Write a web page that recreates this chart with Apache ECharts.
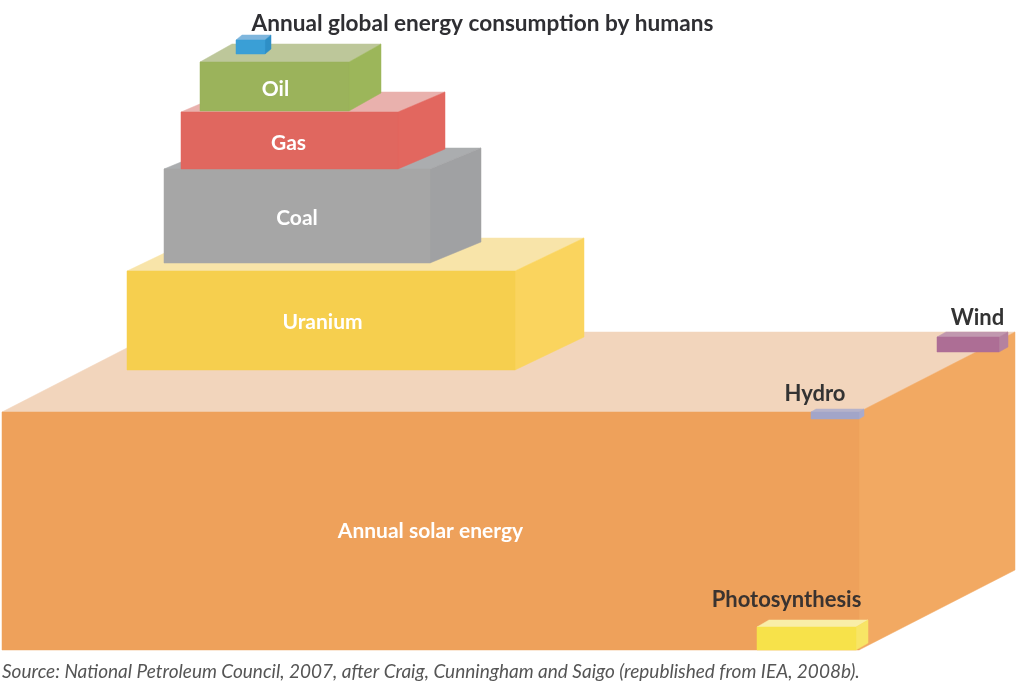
<!DOCTYPE html>
<html><head><meta charset="utf-8">
<style>html,body{margin:0;padding:0;background:#fff}#c{width:1024px;height:686px}</style>
<script src="https://cdn.jsdelivr.net/npm/echarts@6/dist/echarts.min.js"></script>
</head><body><div id="c"></div>
<script>
// Values, in picture units
const boxNames   = ['Annual solar energy','Uranium','Coal','Gas','Oil','Biomass','Wind','Hydro','Photosynthesis'];
const boxLeft    = [2,127,164,181,200,236,937,811,757];
const boxRight   = [859,515,430,398,349,265,999,859,856];
const boxTop     = [412,271,169,112,62,40,337,412,627];
const boxBottom  = [650,370,263,169,111,54,352,419,650];
const boxDepthX  = [156,69,51,47,32,6,9,5,12];
const boxDepthY  = [80,33,21,20,18,5,5,3,7];
const labelText  = ['Annual solar energy','Uranium','Coal','Gas','Oil','','Wind','Hydro','Photosynthesis'];
const labelX     = [430.5,322.5,297,288.5,275.5,0,977.5,815,786.5];
const labelY     = [531,322,218,143,89,0,318,394,600];

const frontFill = ['#EEA15B','#F6CF4E','#A6A6A6','#E0675F','#9BB35B','#3A9FD6','#AD6E95','#A2A5C8','#F7E24A'];
const topFill   = ['#F2D5BC','#F8E4A9','#ABADAF','#E9B1AD','#BDC79A','#7FB6DD','#C198AF','#B5B2CA','#F9EEA8'];
const sideFill  = ['#F2A962','#FAD45E','#A0A1A3','#E2675F','#9CB65A','#2E8FC6','#B5829F','#A9AACB','#F8E565'];
const labelFill = ['#fff','#fff','#fff','#fff','#fff','#fff','#333333','#333333','#3a3330'];
const labelSize = [21,21,21,21,21,21,22,22,22];
const FONT = 'Lato';

const chart = echarts.init(document.getElementById('c'));
chart.setOption({
  animation:false,
  backgroundColor:'#fff',
  title:[
    {text:'Annual global energy consumption by humans',left:477.5,top:7,textAlign:'center',
     textStyle:{fontFamily:FONT,fontSize:22.6,fontWeight:'bold',color:'#2f2f33'}},
    {text:'Source: National Petroleum Council, 2007, after Craig, Cunningham and Saigo (republished from IEA, 2008b).',
     left:-3,top:657,textStyle:{fontFamily:FONT,fontSize:19,fontStyle:'italic',fontWeight:'normal',color:'#555'}}
  ],
  grid:{left:0,right:0,top:0,bottom:0},
  xAxis:{type:'value',min:0,max:1024,show:false},
  yAxis:{type:'value',min:0,max:686,inverse:true,show:false},
  series:[{
    type:'custom',silent:true,clip:false,
    data:boxNames.map((n,i)=>[boxLeft[i],boxTop[i]]),
    renderItem(params,api){
      const i=params.dataIndex;
      const l=boxLeft[i],r=boxRight[i],t=boxTop[i],b=boxBottom[i],dx=boxDepthX[i],dy=boxDepthY[i];
      const poly=(pts,fill)=>({type:'polygon',shape:{points:pts.map(p=>api.coord(p))},
        style:{fill,stroke:fill,lineWidth:0.5}});
      const children=[
        poly([[l,t],[l+dx,t-dy],[r+dx,t-dy],[r,t]],topFill[i]),
        poly([[r,t],[r+dx,t-dy],[r+dx,b-dy],[r,b]],sideFill[i]),
        poly([[l,t],[r,t],[r,b],[l,b]],frontFill[i])
      ];
      if(labelText[i]){
        const p=api.coord([labelX[i],labelY[i]]);
        children.push({type:'text',x:p[0],y:p[1],z2:10,style:{text:labelText[i],fill:labelFill[i],
          font:'bold '+labelSize[i]+'px '+FONT,textAlign:'center',textVerticalAlign:'middle'}});
      }
      return {type:'group',children};
    }
  }]
});
</script></body></html>
